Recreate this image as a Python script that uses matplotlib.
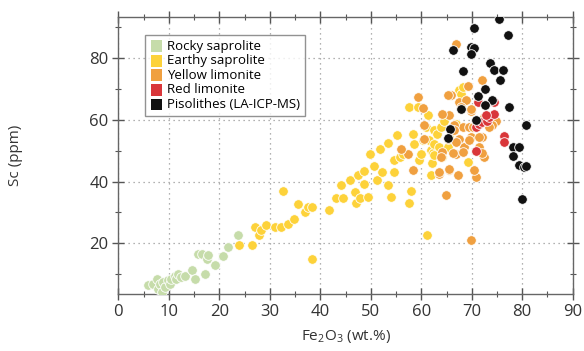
import matplotlib
matplotlib.use('Agg')
import matplotlib.pyplot as plt
from matplotlib.ticker import MultipleLocator

plt.rcParams['font.family'] = ['Open Sans', 'DejaVu Sans']
plt.rcParams['mathtext.fontset'] = 'custom'
plt.rcParams['mathtext.rm'] = 'Open Sans'

# Rocky saprolite
rocky_x = [5.9, 6.9, 7.6, 7.9, 8.2, 8.6, 8.9, 9.2, 9.9, 10.2, 10.5, 11.2, 11.5, 11.9,
           12.5, 13.2, 14.5, 15.2, 15.8, 16.5, 17.1, 17.5, 17.8, 19.1, 20.8, 21.7, 23.7]
rocky_y = [6.3, 6.8, 8.5, 5.2, 6.8, 4.1, 7.4, 5.8, 8.0, 6.8, 8.5, 9.5, 8.5, 10.1,
           9.0, 9.2, 11.2, 8.5, 16.6, 16.6, 10.1, 15.0, 16.0, 12.8, 15.7, 18.7, 22.5]

# Earthy saprolite
earthy_x = [23.9, 26.5, 27.1, 27.8, 28.3, 29.3, 31.0, 32.3, 32.6, 33.6, 34.7, 35.6, 36.9,
            37.5, 38.4, 38.4, 41.8, 43.1, 44.1, 44.5, 45.8, 46.8, 47.4, 47.1, 47.9, 48.7,
            49.4, 48.6, 49.9, 50.7, 51.2, 51.8, 52.2, 53.4, 53.4, 54.0, 54.7, 54.7, 55.1,
            55.7, 56.3, 57.6, 57.9, 57.6, 58.3, 58.6, 59.3, 59.5, 59.9, 60.3, 60.9, 61.1,
            61.3, 61.6, 61.9, 61.9, 62.2, 62.3, 62.6, 62.6, 63.2, 63.6, 63.9, 64.2, 64.6,
            65.5, 65.2, 66.9, 67.5, 67.9, 68.2, 69.2, 62.6]
earthy_y = [19.5, 19.5, 25.2, 22.5, 24.2, 26.0, 25.2, 25.2, 36.8, 26.3, 27.9, 32.8, 30.1,
            31.7, 31.7, 15.0, 30.9, 34.5, 38.8, 34.7, 40.4, 36.6, 42.0, 33.0, 34.7, 39.3,
            35.0, 43.4, 48.8, 45.2, 40.4, 50.6, 43.1, 52.5, 39.0, 35.0, 43.1, 46.9, 55.2,
            48.0, 48.8, 64.2, 36.9, 33.0, 55.5, 52.3, 64.2, 46.9, 49.0, 53.4, 57.7, 22.7,
            61.5, 53.4, 50.1, 42.0, 45.9, 49.1, 56.6, 52.3, 55.5, 51.2, 57.7, 48.0, 59.8,
            54.4, 51.2, 58.8, 69.6, 68.5, 70.7, 46.3, 48.5]

# Yellow limonite
ylim_x = [60.3, 60.6, 60.6, 57.3, 56.0, 58.3, 63.6, 64.9, 65.5, 65.9, 66.9, 69.2, 65.5,
          67.2, 69.8, 70.8, 70.5, 72.0, 67.4, 68.2, 67.5, 66.9, 69.8, 70.8, 69.8, 72.1,
          72.5, 74.8, 74.1, 69.5, 66.5, 64.2, 65.2, 68.5, 68.8, 71.5, 63.9, 64.2, 65.2,
          66.5, 66.9, 66.2, 68.2, 69.5, 70.2, 71.5, 65.5, 63.6, 67.9, 69.8, 72.1, 72.5,
          73.5, 59.3]
ylim_y = [64.0, 58.2, 53.9, 49.0, 50.7, 43.8, 42.5, 35.5, 61.5, 68.0, 84.7, 70.9, 43.6,
          42.0, 20.9, 41.5, 43.6, 72.8, 65.8, 57.7, 53.9, 49.0, 63.0, 59.8, 54.4, 54.4,
          48.0, 59.8, 58.2, 57.7, 58.2, 49.6, 53.9, 51.2, 66.4, 51.2, 48.0, 62.0, 68.0,
          56.6, 52.8, 49.1, 49.6, 53.4, 57.7, 54.4, 44.2, 43.1, 64.2, 63.7, 49.1, 60.9,
          57.7, 67.4]

# Red limonite
rlim_x = [71.2, 70.8, 71.5, 72.1, 73.1, 73.5, 74.5, 74.5, 70.8, 76.4, 76.4, 72.8]
rlim_y = [65.8, 57.7, 58.8, 59.3, 59.8, 60.9, 62.0, 65.8, 49.9, 54.9, 52.8, 61.5]

# Pisolithes (LA-ICP-MS)
piso_x = [75.4, 70.5, 77.2, 66.2, 69.8, 70.5, 69.8, 68.3, 73.6, 74.4, 76.1, 75.6, 72.6,
          71.2, 74.1, 72.6, 67.9, 77.3, 70.8, 65.7, 65.2, 80.7, 78.1, 79.4, 78.1, 79.4,
          80.4, 80.7, 80.0]
piso_y = [92.9, 89.9, 87.7, 82.6, 83.7, 83.2, 81.3, 75.8, 78.5, 76.1, 76.1, 72.8, 70.1,
          67.9, 66.6, 65.0, 63.7, 64.2, 60.1, 57.1, 54.2, 58.2, 51.2, 51.2, 48.2, 45.5,
          44.7, 44.9, 34.4]

groups = [
    ('Rocky saprolite', rocky_x, rocky_y, '#c6dcaa'),
    ('Earthy saprolite', earthy_x, earthy_y, '#fdd23a'),
    ('Yellow limonite', ylim_x, ylim_y, '#f0a040'),
    ('Red limonite', rlim_x, rlim_y, '#d9363a'),
    ('Pisolithes (LA-ICP-MS)', piso_x, piso_y, '#111111'),
]

fig = plt.figure(figsize=(5.84, 3.51), dpi=100)
ax = fig.add_axes([0.2026, 0.1624, 0.7781, 0.7883])

for label, xs, ys, col in groups:
    ax.scatter(xs, ys, s=48, c=col, edgecolors='white', linewidths=0.6,
               label=label, zorder=3)

ax.set_xlim(0, 90)
ax.set_ylim(3.5, 93.3)
ax.xaxis.set_major_locator(MultipleLocator(10))
ax.xaxis.set_minor_locator(MultipleLocator(5))
ax.yaxis.set_major_locator(MultipleLocator(20))
ax.yaxis.set_minor_locator(MultipleLocator(10))
ax.set_yticks([20, 40, 60, 80])

ax.grid(True, which='major', linestyle=(0, (1, 3)), color='#999999', linewidth=0.9)
for s in ax.spines.values():
    s.set_color('#666666')
    s.set_linewidth(1.0)
ax.tick_params(which='both', direction='inout', top=True, right=True,
               colors='#555555', labelcolor='#333333', labelsize=12)
ax.tick_params(which='major', length=8, width=1.0, pad=3)
ax.tick_params(which='minor', length=4, width=0.8)

ax.set_xlabel('Fe$_2$O$_3$ (wt.%)', fontsize=11, color='#333333', labelpad=6)
ax.set_ylabel('Sc (ppm)', fontsize=11, color='#333333')
ax.yaxis.set_label_coords(-0.21, 0.5)

leg = ax.legend(loc='upper left', bbox_to_anchor=(0.045, 0.96), markerscale=1.0,
                fontsize=9.5, frameon=True, fancybox=False, handletextpad=0.3,
                labelspacing=0.12, borderpad=0.35, handlelength=1.0)
leg.get_frame().set_edgecolor('#777777')
leg.get_frame().set_linewidth(1.0)
for h in leg.legend_handles:
    h.set_sizes([70])
    h.set_paths([matplotlib.path.Path.unit_rectangle().transformed(
        matplotlib.transforms.Affine2D().translate(-0.5, -0.5))])
    h.set_edgecolor('none')

fig.savefig('out.png', dpi=100)
